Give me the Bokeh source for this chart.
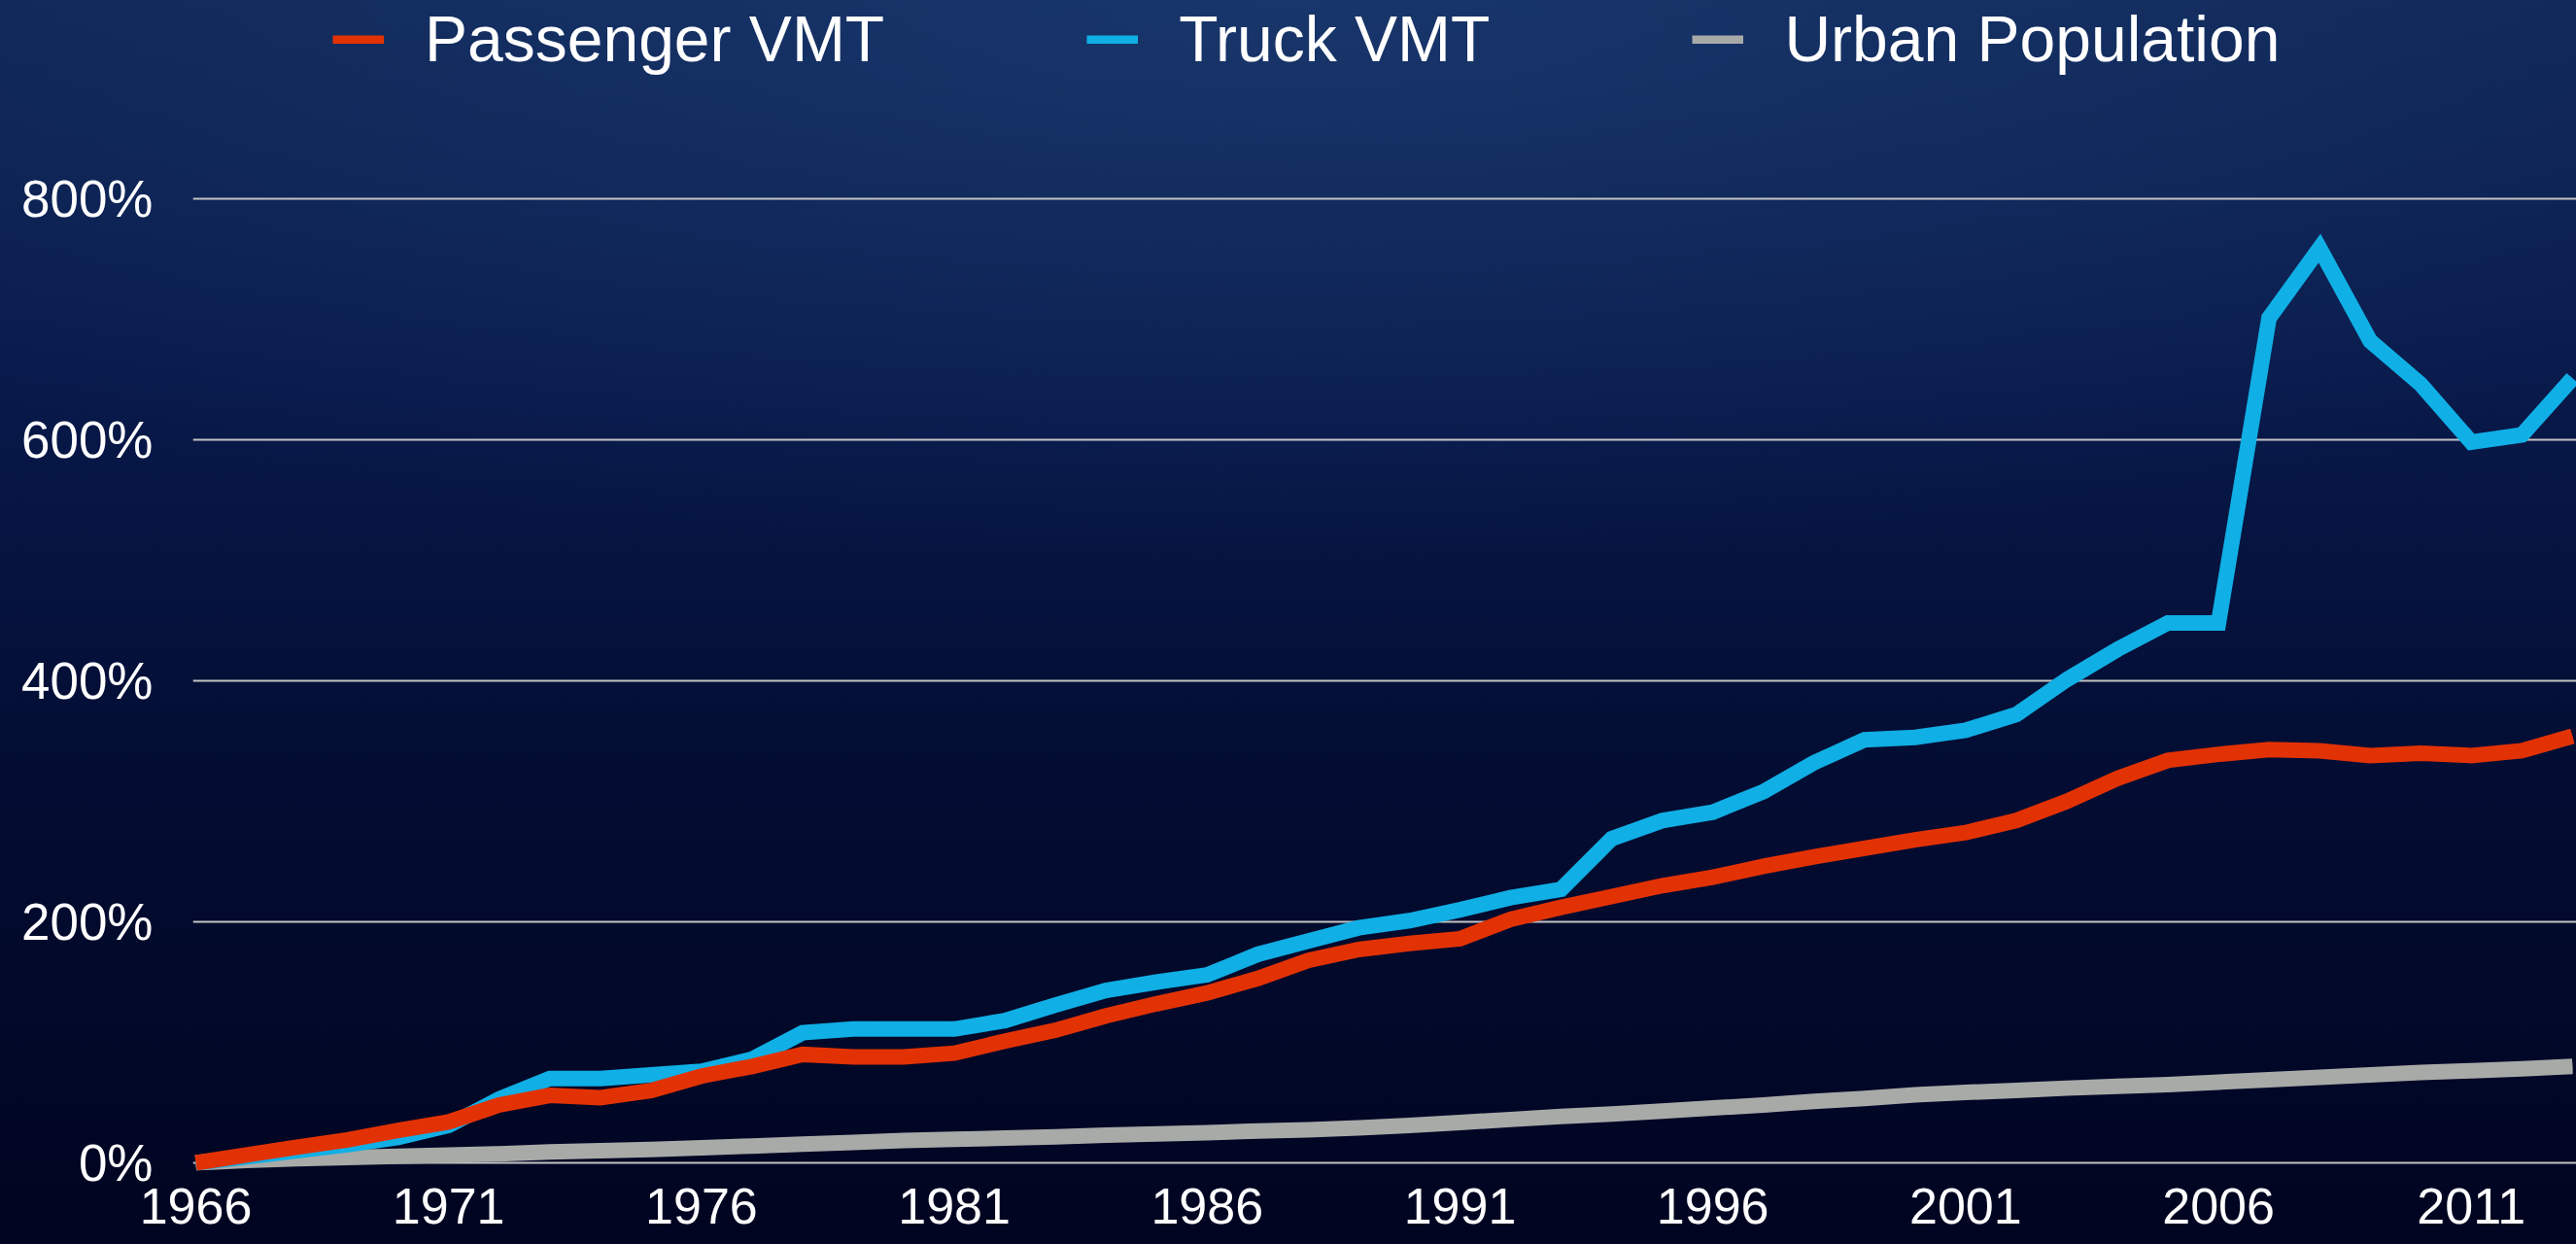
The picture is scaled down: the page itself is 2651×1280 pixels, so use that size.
from bokeh.plotting import figure
from bokeh.models import Range1d, FixedTicker, Legend, LegendItem
from bokeh.embed import file_html
from bokeh.resources import INLINE

# ---------------- data ----------------
years = list(range(1966, 2014))

passenger_vmt = [0, 6.5, 13, 19, 27, 34, 48, 56, 54, 60,
                 72, 80, 90, 88, 88, 91, 101, 110, 122, 132,
                 141, 153, 168, 177, 182, 186, 202, 212, 221, 230,
                 237, 246, 254, 261, 268, 274, 284, 300, 319, 334,
                 339, 343, 342, 338, 340, 338, 342, 354]

truck_vmt = [0, 5, 10, 15, 21, 31, 53, 70, 70, 73,
             76, 86, 108, 111, 111, 111, 118, 131, 143, 150,
             156, 173, 184, 195, 201, 210, 220, 227, 269, 284,
             291, 308, 332, 351, 353, 359, 372, 401, 426, 448,
             448, 701, 759, 682, 646, 598, 604, 651]

urban_population = [0, 2, 3.5, 4.5, 5.5, 6.5, 7.5, 9, 10, 11,
                    12.5, 14, 15.5, 17, 18.5, 19.5, 20.5, 21.5, 23, 24,
                    25, 26.5, 27.5, 29, 31, 33.5, 36, 38.5, 40.5, 43,
                    45.5, 48, 51, 53.5, 56.5, 58.5, 60, 62, 63.5, 65,
                    67, 69, 71, 73, 75, 76.5, 78, 80]

series_names = ["Passenger VMT", "Truck VMT", "Urban Population"]
series_colors = ["#e23204", "#10afe5", "#a8aaa8"]

x_ticks = [1966, 1971, 1976, 1981, 1986, 1991, 1996, 2001, 2006, 2011]
x_tick_labels = ["1966", "1971", "1976", "1981", "1986", "1991", "1996", "2001", "2006", "2011"]
y_ticks = [0, 200, 400, 600, 800]
y_tick_labels = ["0%", "200%", "400%", "600%", "800%"]

FONT = "Liberation Sans"

# ---------------- figure ----------------
p = figure(width=2651, height=1280, output_backend="svg", toolbar_location=None,
           x_range=Range1d(1965.942, 2013.08), y_range=Range1d(-6.45, 964.52),
           min_border_left=198, min_border_right=0, min_border_top=0, min_border_bottom=76)

p.background_fill_alpha = 0
p.border_fill_alpha = 0
p.outline_line_color = None

# grid
p.xgrid.grid_line_color = None
p.ygrid.grid_line_color = "#c4c4c4"
p.ygrid.grid_line_width = 2
p.ygrid.ticker = FixedTicker(ticks=y_ticks)

# axes
p.xaxis.ticker = FixedTicker(ticks=x_ticks)
p.xaxis.major_label_overrides = dict(zip(x_ticks, x_tick_labels))
p.yaxis.ticker = FixedTicker(ticks=y_ticks)
p.yaxis.major_label_overrides = dict(zip(y_ticks, y_tick_labels))
for ax in (p.xaxis, p.yaxis):
    ax.axis_line_color = None
    ax.major_tick_line_color = None
    ax.minor_tick_line_color = None
    ax.major_tick_out = 0
    ax.major_tick_in = 0
    ax.major_label_text_color = "white"
    ax.major_label_text_font = FONT
p.xaxis.major_label_text_font_size = "52px"
p.yaxis.major_label_text_font_size = "53px"
p.xaxis.major_label_standoff = 18
p.yaxis.major_label_standoff = 41

data_series = [passenger_vmt, truck_vmt, urban_population]

# thin legend-swatch renderers (hidden underneath the thick lines)
swatches = [p.line(years, data_series[i], line_color=series_colors[i], line_width=9)
            for i in range(3)]

# series lines (gray underneath, red on top)
for idx in (2, 1, 0):
    p.line(years, data_series[idx], line_color=series_colors[idx], line_width=16,
           line_join="miter", line_cap="butt")

legend = Legend(items=[LegendItem(label=n, renderers=[r]) for n, r in zip(series_names, swatches)],
                orientation="horizontal", location=(144, 1126), padding=0, margin=0,
                spacing=208, glyph_width=53, glyph_height=9, label_standoff=42,
                label_text_font=FONT, label_text_font_size="66px", label_text_color="white",
                background_fill_alpha=0, border_line_alpha=0)
p.add_layout(legend)

html = file_html(p, INLINE)
bg = ("<style>html{min-height:100%;background:"
      "radial-gradient(ellipse 75% 45% at 50% 0%, rgba(32,66,124,0.6), rgba(32,66,124,0) 100%),"
      "linear-gradient(to bottom, #0d2452 0%, #08194a 30%, #030d33 62%, #000420 100%);}"
      "body{background:transparent;}</style></head>")
html = html.replace("</head>", bg, 1)
open("out.html", "w").write(html)
